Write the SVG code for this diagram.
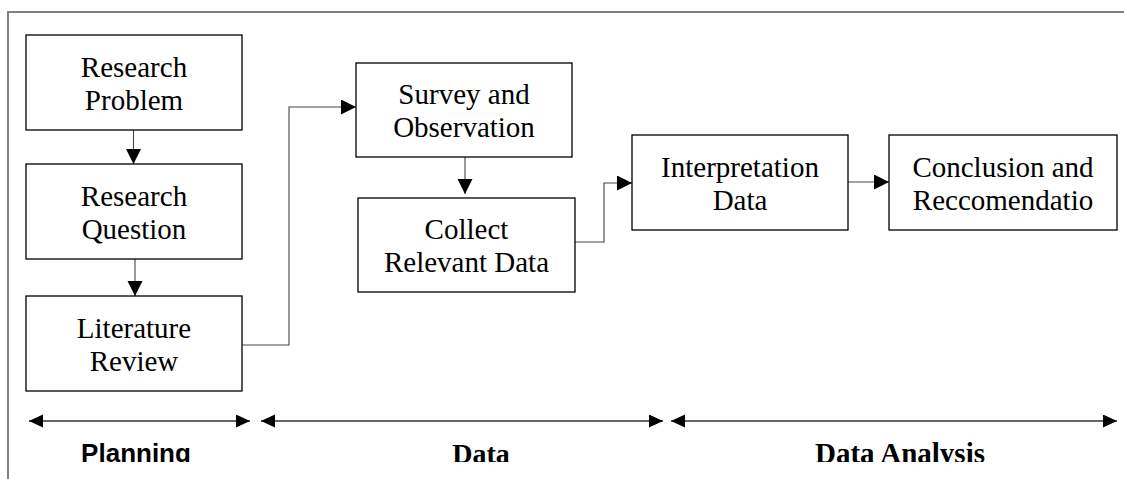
<svg xmlns="http://www.w3.org/2000/svg" width="1124" height="479" viewBox="0 0 1124 479">
<style>
.box{fill:#fff;stroke:#000;stroke-width:1.3}
.t{font-family:"Liberation Serif","Times New Roman",serif;font-size:29px;fill:#000;text-anchor:middle}
.conn{fill:none;stroke:#444;stroke-width:1.1}
.scale{fill:none;stroke:#333;stroke-width:1.4}
.frame{fill:none;stroke:#808080;stroke-width:2}
.lab{font-weight:bold;fill:#000;text-anchor:middle}
</style>
<defs>
<marker id="ah" markerUnits="userSpaceOnUse" markerWidth="16" markerHeight="16" refX="15" refY="7.5" orient="auto">
<path d="M0,0 L15,7.5 L0,15 Z" fill="#000"/>
</marker>
<marker id="sh" markerUnits="userSpaceOnUse" markerWidth="16" markerHeight="14" refX="14" refY="6.5" orient="auto-start-reverse">
<path d="M0,0 L14,6.5 L0,13 Z" fill="#000"/>
</marker>
<clipPath id="clipLab"><rect x="0" y="0" width="1124" height="462"/></clipPath>
</defs>
<path class="frame" d="M8,479 V12 H1124"/>
<g id="connectors">
<path class="conn" d="M133.5,130 V164" marker-end="url(#ah)"/>
<path class="conn" d="M135,259 V296" marker-end="url(#ah)"/>
<path class="conn" d="M242,345 H289 V107 H356" marker-end="url(#ah)"/>
<path class="conn" d="M465,157 V194" marker-end="url(#ah)"/>
<path class="conn" d="M575,242 H604 V183 H632" marker-end="url(#ah)"/>
<path class="conn" d="M848,182 H889" marker-end="url(#ah)"/>
</g>
<g id="n1"><rect class="box" x="26" y="35" width="216" height="95"/><text class="t" x="134" y="77">Research</text><text class="t" x="134" y="110">Problem</text></g>
<g id="n2"><rect class="box" x="26" y="164" width="216" height="95"/><text class="t" x="134" y="206">Research</text><text class="t" x="134" y="239">Question</text></g>
<g id="n3"><rect class="box" x="26" y="296" width="216" height="95"/><text class="t" x="134" y="338">Literature</text><text class="t" x="134" y="371">Review</text></g>
<g id="n4"><rect class="box" x="356" y="63" width="216" height="94"/><text class="t" x="464" y="104">Survey and</text><text class="t" x="464" y="137">Observation</text></g>
<g id="n5"><rect class="box" x="358" y="198" width="217" height="94"/><text class="t" x="466.5" y="239">Collect</text><text class="t" x="466.5" y="272">Relevant Data</text></g>
<g id="n6"><rect class="box" x="632" y="135" width="216" height="95"/><text class="t" x="740" y="177">Interpretation</text><text class="t" x="740" y="210">Data</text></g>
<g id="n7"><rect class="box" x="889" y="135" width="228" height="95"/><text class="t" x="1003" y="177">Conclusion and</text><text class="t" x="1003" y="210">Reccomendatio</text></g>
<g id="scales">
<path class="scale" d="M29,421 H250" marker-start="url(#sh)" marker-end="url(#sh)"/>
<path class="scale" d="M261,421 H663" marker-start="url(#sh)" marker-end="url(#sh)"/>
<path class="scale" d="M671,421 H1117" marker-start="url(#sh)" marker-end="url(#sh)"/>
</g>
<g id="labels" clip-path="url(#clipLab)">
<text class="lab" x="136" y="462" font-family="Liberation Sans, Arial, sans-serif" font-size="26">Planning</text>
<text class="lab" x="481" y="463" font-family="Liberation Serif, Times New Roman, serif" font-size="28">Data</text>
<text class="lab" x="900" y="463" font-family="Liberation Serif, Times New Roman, serif" font-size="29">Data Analysis</text>
</g>
</svg>
